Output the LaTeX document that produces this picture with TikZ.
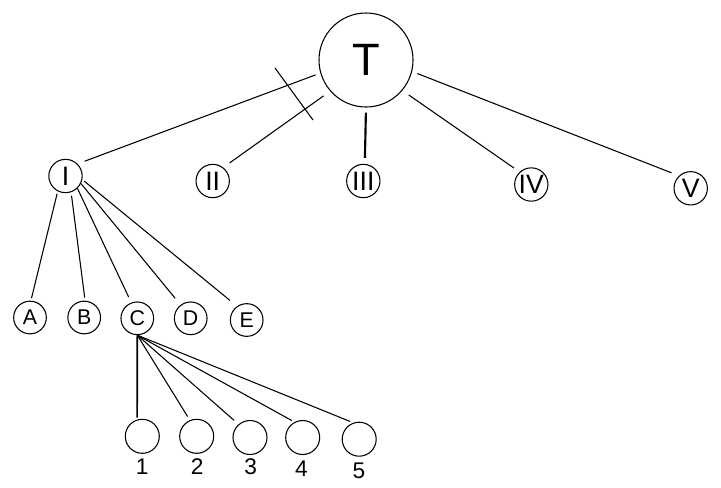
\documentclass[tikz,border=0pt]{standalone}
\usepackage{fontspec}
\setmainfont{Liberation Sans}
\begin{document}
\begin{tikzpicture}[x=0.75pt,y=-0.75pt,
  every path/.style={line width=0.8pt},
  bignode/.style={draw, circle, inner sep=0pt, minimum size=70.5pt, font=\fontsize{34}{34}\selectfont},
  romnode/.style={draw, circle, inner sep=0pt, minimum size=25pt, font=\fontsize{20}{20}\selectfont},
  letnode/.style={draw, circle, inner sep=0pt, minimum size=24.5pt, font=\fontsize{16}{16}\selectfont},
  numnode/.style={draw, circle, inner sep=0pt, minimum size=25.5pt},
  numlabel/.style={inner sep=0pt, font=\fontsize{17}{17}\selectfont},
  edge/.style={line width=0.8pt}]
\useasboundingbox (0,0) rectangle (721,487);
% nodes
\node[bignode] (T) at (366,60) {T};
\node[romnode] (nI) at (65.5,176) {I};
\node[romnode] (nII) at (212.7,181) {II};
\node[romnode] (nIII) at (363.3,181) {III};
\node[romnode] (nIV) at (531.3,184.5) {IV};
\node[romnode] (nV) at (690.7,188.3) {V};
\node[letnode] (A) at (30,317.5) {A};
\node[letnode] (B) at (84.2,317.5) {B};
\node[letnode] (C) at (137.3,318.3) {C};
\node[letnode] (D) at (190.7,318.3) {D};
\node[letnode] (E) at (246.7,320) {E};
\node[numnode] (c1) at (142.3,436.3) {};
\node[numnode] (c2) at (196.7,436.3) {};
\node[numnode] (c3) at (250,437.5) {};
\node[numnode] (c4) at (302.7,437.5) {};
\node[numnode] (c5) at (359.2,439.2) {};
\node[numlabel] (l1) at (142.3,466.7) {1};
\node[numlabel] (l2) at (197.3,466.7) {2};
\node[numlabel] (l3) at (250.7,466.7) {3};
\node[numlabel] (l4) at (301.5,468.3) {4};
\node[numlabel] (l5) at (359,470.7) {5};
% edges from T
\draw[edge, shorten <=3.75pt, shorten >=5.6pt] (T.196) -- (nI.45);
\draw[edge, shorten <=6pt, shorten >=5.8pt] (T.221) -- (nII.52);
\draw[edge, line width=1.6pt, shorten <=3.75pt, shorten >=4.5pt] (T.270) -- (nIII.85);
\draw[edge, shorten <=5.8pt, shorten >=5.1pt] (T.320) -- (nIV.133);
\draw[edge, shorten <=4.2pt, shorten >=6pt] (T.346) -- (nV.133);
% edges from I
\draw[edge, shorten <=1.9pt, shorten >=1.9pt] (nI.243) -- (A.87);
\draw[edge, shorten <=2.6pt, shorten >=2.3pt] (nI.289) -- (B.87);
\draw[edge, shorten >=4.5pt] (nI.314) -- (C.111);
\draw[edge, shorten >=6.4pt] (nI.334) -- (D.127);
\draw[edge, shorten <=1.9pt, shorten >=6.8pt] (nI.348) -- (E.125);
% edges from C
\draw[edge, line width=1.2pt, shorten >=1.5pt] (C.270) -- (c1.107);
\draw[edge, shorten >=3.2pt] (C.270) -- (c2.113);
\draw[edge, shorten >=4.5pt] (C.270) -- (c3.131);
\draw[edge, shorten >=2.2pt] (C.270) -- (c4.118);
\draw[edge, shorten >=2.5pt] (C.270) -- (c5.110);
% cut mark
\coordinate (cutA) at (275,68);
\coordinate (cutB) at (313,120);
\draw[edge] (cutA) -- (cutB);
\end{tikzpicture}
\end{document}
